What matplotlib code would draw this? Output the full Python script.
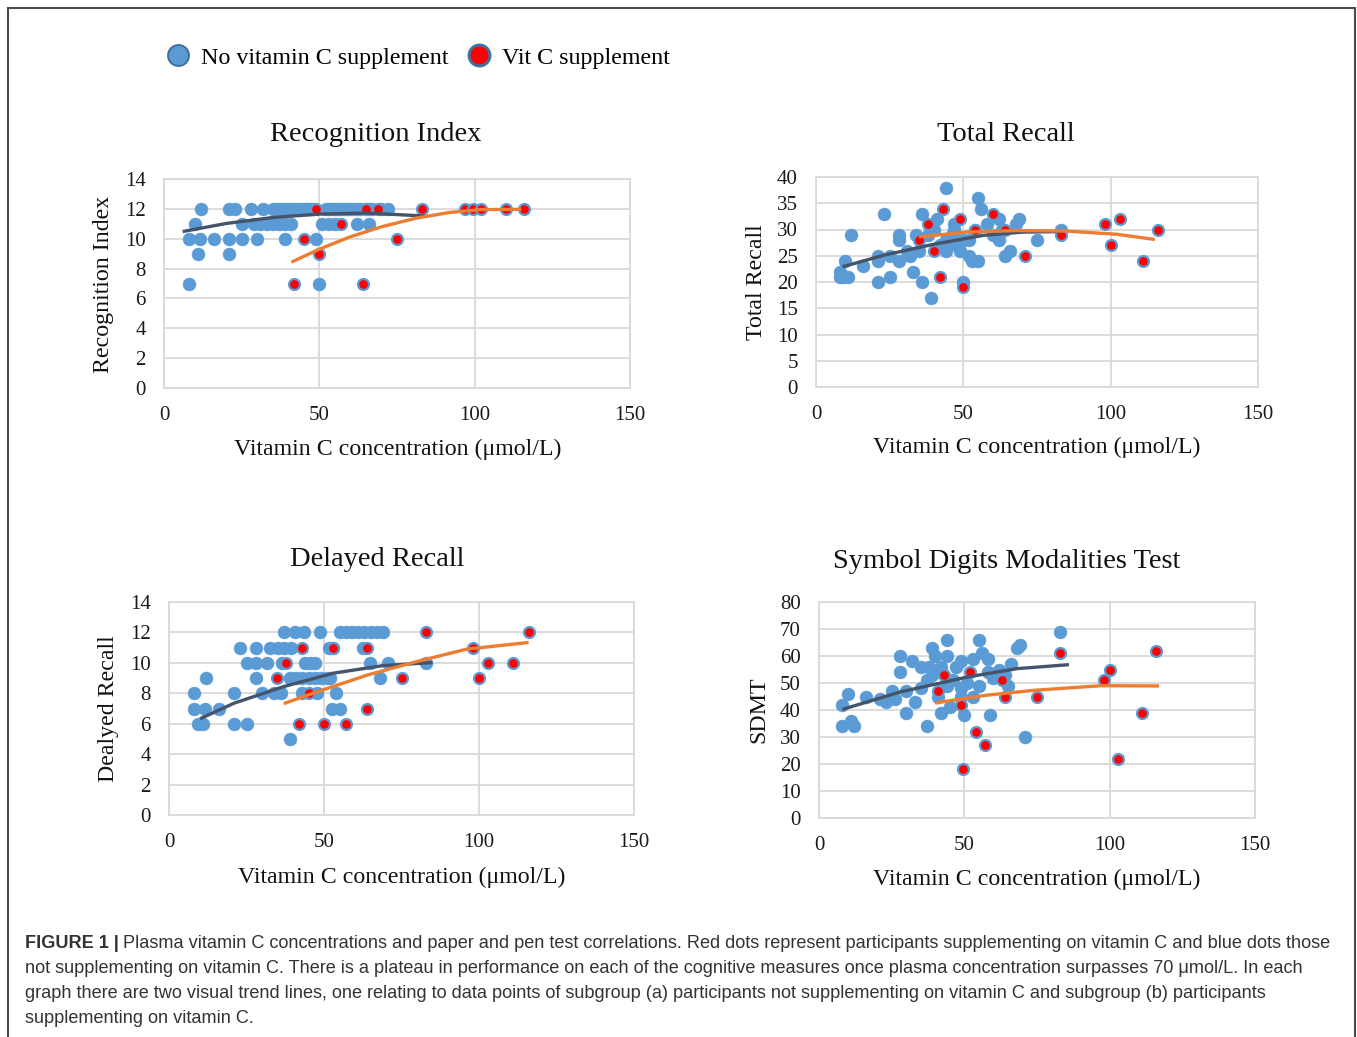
import matplotlib
matplotlib.use('Agg')
import matplotlib.pyplot as plt
from matplotlib.lines import Line2D
from matplotlib.patches import Rectangle

W, H = 1357, 1037

# Recognition Index: participants without / with vitamin C supplement
ri_no_x = [12, 21, 23, 28, 32, 35, 36, 37, 38, 39, 40, 41, 42, 43, 44, 45, 46, 47, 48,
           52, 53, 54, 55, 56, 57, 58, 59, 60, 61, 62, 63, 65, 66, 67, 70, 72,
           10, 25, 29, 31, 33, 35, 37, 39, 41, 51, 53, 55, 62, 66,
           8, 11.5, 16, 21, 25, 30, 39, 49,
           11, 21,
           8, 50]
ri_no_y = [12] * 36 + [11] * 14 + [10] * 8 + [9] * 2 + [7] * 2
ri_vc_x = [49, 65, 69, 83, 97, 99.5, 102, 110, 116, 57, 45, 75, 50, 42, 64]
ri_vc_y = [12, 12, 12, 12, 12, 12, 12, 12, 12, 11, 10, 10, 9, 7, 7]
ri_trend_no_x = [6, 20, 35, 50, 65, 84]
ri_trend_no_y = [10.48, 11.02, 11.42, 11.65, 11.72, 11.52]
ri_trend_vc_x = [41, 50, 60, 70, 81, 92, 102, 115]
ri_trend_vc_y = [8.43, 9.30, 10.13, 10.80, 11.37, 11.76, 11.95, 11.97]

# Total Recall
tr_no_x = [44, 55, 56, 23, 36, 41, 12, 28, 34, 47, 62, 69, 68, 62, 66, 64, 75, 83, 52, 53,
           55, 49, 44, 28, 28, 21, 21, 25, 16, 10, 8, 8, 11, 9, 21, 25, 33, 36, 39, 50,
           31, 38, 42, 46, 50, 54, 58, 60, 63, 40, 45, 32, 35, 48, 52, 47, 44]
tr_no_y = [38, 36, 34, 33, 33, 32, 29, 29, 29, 31, 32, 32, 31, 28, 26, 25, 28, 30, 25, 24,
           24, 26, 26, 28, 24, 25, 24, 25, 23, 24, 22, 21, 21, 21, 20, 21, 22, 20, 17, 20,
           26, 29, 27, 29, 28, 30, 31, 29, 30, 30, 27, 25, 26, 27, 28, 30, 28]
tr_vc_x = [43, 38, 49, 60, 54, 64, 35, 40, 71, 83, 98, 103, 100, 111, 116, 42, 50]
tr_vc_y = [34, 31, 32, 33, 30, 30, 28, 26, 25, 29, 31, 32, 27, 24, 30, 21, 19]
tr_trend_no_x = [9, 23, 40, 57, 70, 83]
tr_trend_no_y = [22.9, 25.1, 27.2, 28.9, 29.5, 29.6]
tr_trend_vc_x = [35, 51, 68, 85, 102, 115]
tr_trend_vc_y = [28.6, 29.5, 29.8, 29.7, 29.1, 28.1]

# Delayed Recall
dr_no_x = [37, 40.5, 43.5, 48.7, 55, 57, 59, 61, 63, 65, 67, 69,
           23, 28, 32.5, 35, 37, 39.5, 51.5, 53, 62.5,
           25, 28, 31.7, 36.3, 44, 45.5, 47, 64.8, 70.8, 83,
           12, 28, 39, 41, 43, 45, 47, 49, 51, 52, 68,
           8, 21, 30, 34, 36, 43, 47.6, 54,
           8, 11.6, 16, 52.5, 55,
           9.5, 11, 21, 25,
           39]
dr_no_y = [12] * 12 + [11] * 9 + [10] * 10 + [9] * 11 + [8] * 8 + [7] * 5 + [6] * 4 + [5]
dr_vc_x = [83, 116, 43, 52.8, 64, 98, 37.7, 103, 111, 34.7, 75, 100, 45, 64, 42, 50, 57]
dr_vc_y = [12, 12, 11, 11, 11, 11, 10, 10, 10, 9, 9, 9, 8, 7, 6, 6, 6]
dr_trend_no_x = [10, 21, 37, 53, 69, 85]
dr_trend_no_y = [6.32, 7.35, 8.44, 9.32, 9.82, 10.02]
dr_trend_vc_x = [37, 48, 64, 80, 96, 116]
dr_trend_vc_y = [7.32, 8.11, 9.2, 10.09, 10.9, 11.34]

# Symbol Digits Modalities Test
sd_no_x = [83, 44, 55, 69, 68, 39, 40, 44, 28, 28, 32, 35, 49, 53, 56, 58, 66, 62, 60, 65,
           47, 39, 37, 44, 49, 53, 49, 45, 42, 50, 59, 30, 33, 37, 25, 21, 23, 16, 10, 8,
           8, 11, 12, 71, 30, 41, 46, 51, 55, 38, 42, 58, 64, 35, 26]
sd_no_y = [69, 66, 66, 64, 63, 63, 60, 60, 60, 54, 58, 56, 58, 59, 61, 59, 57, 55, 52, 49,
           56, 53, 51, 49, 48, 45, 45, 41, 39, 38, 38, 39, 43, 34, 47, 44, 43, 45, 46, 42,
           34, 36, 34, 30, 47, 45, 51, 50, 49, 56, 56, 54, 53, 48, 44]
sd_vc_x = [83, 116, 100, 98, 43, 52, 63, 41, 64, 75, 49, 111, 54, 57, 49.5, 103]
sd_vc_y = [61, 62, 55, 51, 53, 54, 51, 47, 45, 45, 42, 39, 32, 27, 18, 22]
sd_trend_no_x = [8, 28, 51, 68, 86]
sd_trend_no_y = [40.2, 46.7, 52.2, 55.3, 56.8]
sd_trend_vc_x = [40, 57, 74, 97, 117]
sd_trend_vc_y = [42.6, 45.4, 47.3, 49.0, 48.9]

BLUE = '#5B9BD5'
RED = '#FF0000'
TREND_NO = '#44546A'
TREND_VC = '#ED7D31'
GRID = '#D9D9D9'
SERIF = 'Liberation Serif'

plt.rcParams['font.family'] = SERIF


def fx(x):
    return x / W


def fy(y):
    return 1 - y / H


def add_panel(box, no_x, no_y, vc_x, vc_y, tn_x, tn_y, tv_x, tv_y, ymax, ystep):
    left, top, right, bottom = box
    ax = fig.add_axes([fx(left), fy(bottom), (right - left) / W, (bottom - top) / H])
    ax.scatter(no_x, no_y, s=86, color=BLUE, edgecolors=BLUE, linewidths=0.4, zorder=3)
    ax.scatter(vc_x, vc_y, s=62, color=RED, edgecolors=BLUE, linewidths=1.6, zorder=4)
    ax.plot(tn_x, tn_y, color=TREND_NO, lw=2.4, solid_capstyle='butt', zorder=5)
    ax.plot(tv_x, tv_y, color=TREND_VC, lw=2.4, solid_capstyle='butt', zorder=5)
    ax.set_xlim(0, 150)
    ax.set_ylim(0, ymax)
    ax.set_xticks([0, 50, 100, 150])
    ax.set_yticks(range(0, ymax + 1, ystep))
    ax.grid(True, color=GRID, lw=1.3)
    ax.set_axisbelow(True)
    for sp in ax.spines.values():
        sp.set_color(GRID)
        sp.set_linewidth(1.3)
    ax.tick_params(length=0, labelsize=15, colors='#1a1a1a')
    ax.tick_params(axis='y', pad=13)
    ax.tick_params(axis='x', pad=13)
    return ax


fig = plt.figure(figsize=(W / 100, H / 100), dpi=100)

add_panel((164, 179, 630, 388), ri_no_x, ri_no_y, ri_vc_x, ri_vc_y,
          ri_trend_no_x, ri_trend_no_y, ri_trend_vc_x, ri_trend_vc_y, 14, 2)
add_panel((816, 177, 1258, 387), tr_no_x, tr_no_y, tr_vc_x, tr_vc_y,
          tr_trend_no_x, tr_trend_no_y, tr_trend_vc_x, tr_trend_vc_y, 40, 5)
add_panel((169, 602, 634, 815), dr_no_x, dr_no_y, dr_vc_x, dr_vc_y,
          dr_trend_no_x, dr_trend_no_y, dr_trend_vc_x, dr_trend_vc_y, 14, 2)
add_panel((819, 602, 1255, 818), sd_no_x, sd_no_y, sd_vc_x, sd_vc_y,
          sd_trend_no_x, sd_trend_no_y, sd_trend_vc_x, sd_trend_vc_y, 80, 10)

# titles, axis labels
titles = [('Recognition Index', 376, 134), ('Total Recall', 1006, 134),
          ('Delayed Recall', 377, 560), ('Symbol Digits Modalities Test', 1007, 561)]
for txt, x, y in titles:
    fig.text(fx(x), fy(y), txt, ha='center', va='center', fontsize=20.5, color='#111111')

xlab = 'Vitamin C concentration (\u03bcmol/L)'
for x, y in [(398, 449), (1037, 447), (402, 877), (1037, 879)]:
    fig.text(fx(x), fy(y), xlab, ha='center', va='center', fontsize=17.2, color='#111111')

ylabs = [('Recognition Index', 104, 284), ('Total Recall', 756, 282),
         ('Dealyed Recall', 109, 709), ('SDMT', 759, 710)]
for txt, x, y in ylabs:
    fig.text(fx(x), fy(y), txt, ha='center', va='center', rotation=90,
             fontsize=17.2, color='#111111')

# legend
handles = [Line2D([], [], ls='', marker='o', markersize=15, markerfacecolor=BLUE,
                  markeredgecolor='#41719C', markeredgewidth=1.5),
           Line2D([], [], ls='', marker='o', markersize=15, markerfacecolor=RED,
                  markeredgecolor='#41719C', markeredgewidth=2.2)]
fig.legend(handles, ['No vitamin C supplement', 'Vit C supplement'],
           loc='center left', bbox_to_anchor=(fx(166), fy(58)), ncol=2,
           frameon=False, handlelength=1.0, handletextpad=0.45, columnspacing=0.79,
           borderpad=0, borderaxespad=0, prop={'family': SERIF, 'size': 17.3})

# outer frame
fig.patches.append(Rectangle((fx(8), fy(1060)), (1355 - 8) / W, (1060 - 8) / H,
                             transform=fig.transFigure, fill=False,
                             edgecolor='#4a4a4a', lw=1.5))

# caption
cap_lines = [
    'Plasma vitamin C concentrations and paper and pen test correlations. Red dots represent '
    'participants supplementing on vitamin C and blue dots those',
    'not supplementing on vitamin C. There is a plateau in performance on each of the cognitive '
    'measures once plasma concentration surpasses 70 \u03bcmol/L. In each',
    'graph there are two visual trend lines, one relating to data points of subgroup (a) '
    'participants not supplementing on vitamin C and subgroup (b) participants',
    'supplementing on vitamin C.',
]
CAP = 'Liberation Sans'
CAP_SIZE = 13.1
renderer = fig.canvas.get_renderer()
head = fig.text(fx(25), fy(943), 'FIGURE 1 |', fontsize=CAP_SIZE, family=CAP,
                weight='bold', color='#333333', va='center')
bb = head.get_window_extent(renderer=renderer)
fig.text(bb.x1 / W + fx(4), fy(943), cap_lines[0], fontsize=CAP_SIZE, family=CAP,
         color='#333333', va='center')
for i, line in enumerate(cap_lines[1:], start=1):
    fig.text(fx(25), fy(943 + 25.3 * i), line, fontsize=CAP_SIZE, family=CAP,
             color='#333333', va='center')

fig.savefig('out.png', dpi=100)
